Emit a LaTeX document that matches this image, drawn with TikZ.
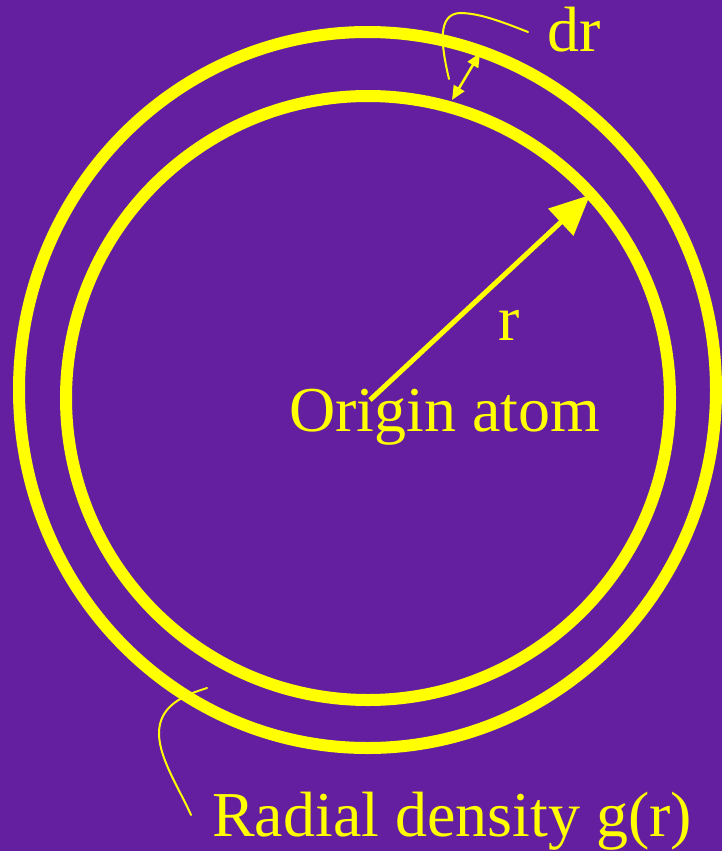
\documentclass[tikz,border=0pt]{standalone}
\usepackage{fontspec}
\setmainfont{Liberation Serif}
\usepackage{xcolor}
\usetikzlibrary{arrows.meta}

\definecolor{bgpurple}{RGB}{100,31,160}
\definecolor{ringyellow}{RGB}{255,255,0}

\begin{document}
\begin{tikzpicture}[x=1pt, y=-1pt,
    ring/.style={draw=ringyellow, line width=12pt},
    bigtext/.style={text=ringyellow, inner sep=0pt, font=\fontsize{64}{70}\selectfont},
    leader/.style={draw=ringyellow, line width=2pt, line cap=round}]
      % Background
      \fill[bgpurple] (0,0) rectangle (722,851);
      \useasboundingbox (0,0) rectangle (722,851);

      % Shell rings
      \foreach \cx/\cy/\rx/\ry in {368/398/302/302, 367.5/390/348.5/358} {
        \draw[ring] (\cx,\cy) ellipse [x radius=\rx pt, y radius=\ry pt];
      }

      % Labels
      \node[bigtext, anchor=base west] (origin) at (289,431) {Origin atom};
      \node[bigtext, anchor=base west] (rlabel) at (498,340) {r};
      \node[bigtext, anchor=base west] (drlabel) at (547,52) {dr};
      \node[bigtext, anchor=base west] (gdens) at (212,836) {Radial density g(r)};

      % Arrow ends
      \coordinate (rtail) at (370,400);
      \coordinate (rhead) at (590,195);
      \coordinate (drin) at (452,100);
      \coordinate (drout) at (480,53);
      \coordinate (drleadA) at (449,79);
      \coordinate (drleadB) at (528,32);
      \coordinate (gleadA) at (207,688);
      \coordinate (gleadB) at (191,815);

      % Radius and shell width
      \draw[-{Triangle[length=40pt, width=36pt]}, ringyellow, line width=5pt] (rtail) -- (rhead);
      \draw[{Triangle[length=14pt, width=12pt]}-{Triangle[length=14pt, width=12pt]}, ringyellow, line width=2.5pt] (drin) -- (drout);

      % Leader lines
      \draw[leader] (drleadA) .. controls (441,45) and (437,14) .. (460,13)
                    .. controls (480,13) and (505,23) .. (drleadB);
      \draw[leader] (gleadA) .. controls (185,695) and (158,705) .. (159,735)
                    .. controls (160,760) and (180,790) .. (gleadB);
\end{tikzpicture}
\end{document}
